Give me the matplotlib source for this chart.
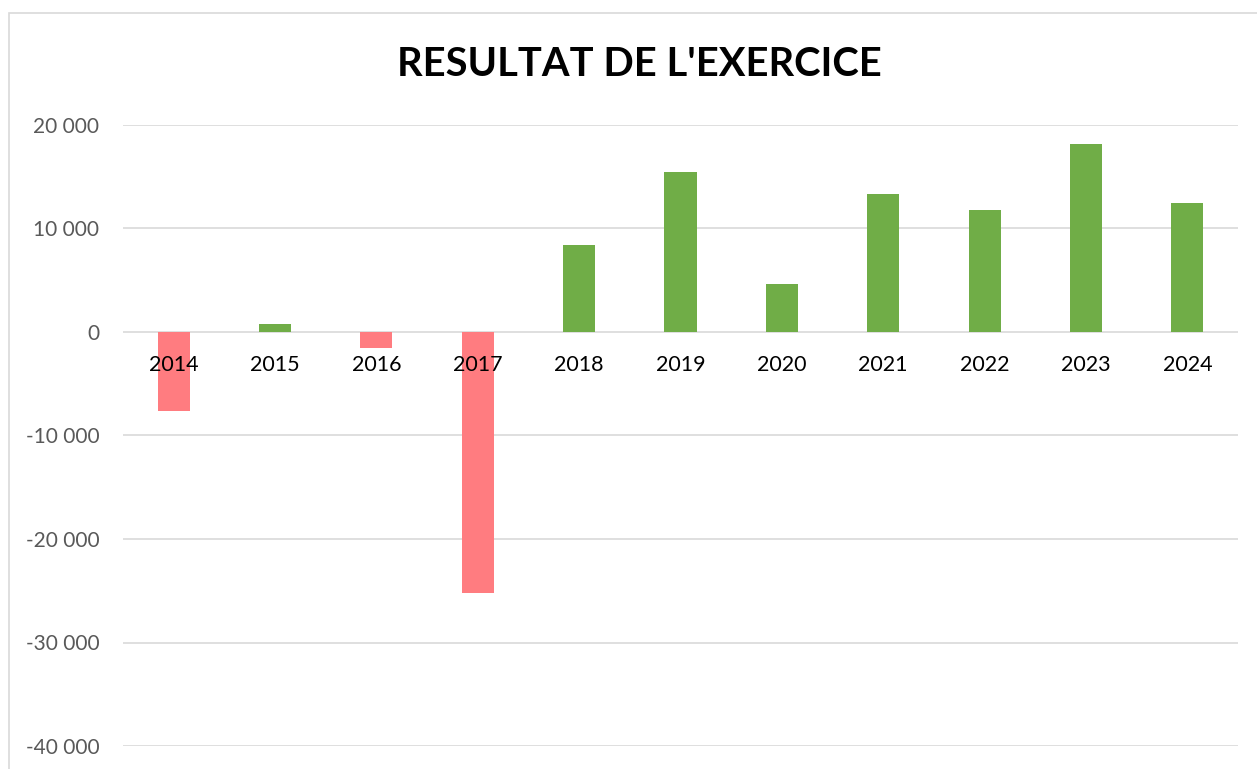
import matplotlib.pyplot as plt
import matplotlib.ticker as mtick
from matplotlib.patches import Rectangle

years = ['2014', '2015', '2016', '2017', '2018', '2019', '2020', '2021', '2022', '2023', '2024']
resultat = [-7630, 780, -1580, -25170, 8430, 15500, 4600, 13350, 11800, 18200, 12480]

pos_color = '#70AD47'
neg_color = '#FF7C80'
grid_color = '#D9D9D9'

plt.rcParams['font.family'] = ['Lato', 'DejaVu Sans']

fig = plt.figure(figsize=(12.57, 7.69), dpi=100)

# light chart-area border (only top and left visible in the crop)
fig.patches.append(Rectangle((9 / 1257, -0.05), 1.1, (769 - 13) / 769 + 0.05,
                             transform=fig.transFigure, fill=False,
                             edgecolor=grid_color, lw=1.2))

ax = fig.add_axes([123 / 1257, 23 / 769, (1238 - 123) / 1257, (746 - 125) / 769])

colors = [pos_color if v >= 0 else neg_color for v in resultat]
x = list(range(len(years)))
ax.bar(x, resultat, width=0.316, color=colors, zorder=3)

ax.set_xlim(-0.5, len(years) - 0.5)
ax.set_ylim(-40000, 20000)
ax.yaxis.set_major_locator(mtick.MultipleLocator(10000))
ax.yaxis.set_major_formatter(mtick.FuncFormatter(lambda v, p: f'{int(v):,}'.replace(',', ' ')))
ax.grid(axis='y', color=grid_color, lw=1.2, zorder=0)
ax.set_axisbelow(True)

for s in ax.spines.values():
    s.set_visible(False)

# category labels sit just under the zero line, drawn over the bars
ax.set_xticks([])
for i, yr in zip(x, years):
    ax.annotate(yr, xy=(i, 0), xytext=(0, -16.5), textcoords='offset points',
                ha='center', va='top', fontsize=15.5, color='black', zorder=5,
                annotation_clip=False)
ax.tick_params(axis='y', length=0, pad=17, labelsize=15, labelcolor='#595959')

fig.text(639 / 1257, (769 - 64) / 769, "RESULTAT DE L'EXERCICE", ha='center', va='center',
         fontsize=28.7, fontweight='bold', color='black')

fig.savefig('out.png', dpi=100)
